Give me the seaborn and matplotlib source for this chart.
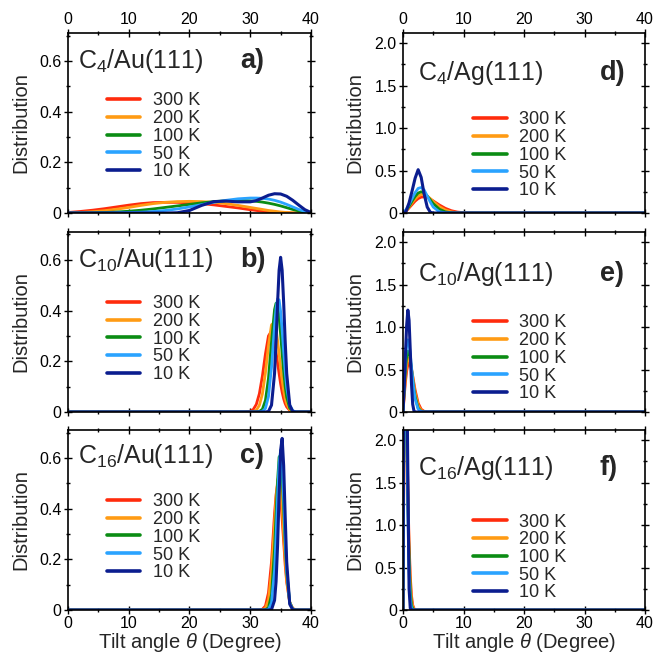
import pandas as pd
import matplotlib
matplotlib.use("Agg")
import matplotlib.pyplot as plt
import seaborn as sns
from matplotlib.ticker import MultipleLocator

TEMPS = ["300 K", "200 K", "100 K", "50 K", "10 K"]
COLORS = ["#ff2b0c", "#ff9b14", "#0b8c14", "#2aa3ff", "#0b1d8f"]

# a) C4/Au(111)
A_X = [0, 2, 4, 6, 8, 10, 12, 14, 16, 18, 20, 22, 24, 26, 28, 30, 31, 32, 33, 34, 35, 36, 37, 38, 39, 40]
A_300 = [.002, .006, .011, .017, .024, .031, .037, .041, .042, .042, .040, .037, .032, .026, .020, .013, .010, .007, .005, .003, .002, .001, 0, 0, 0, 0]
A_200 = [0, .002, .005, .009, .015, .022, .030, .037, .042, .045, .046, .045, .042, .037, .030, .022, .018, .014, .010, .007, .004, .002, .001, 0, 0, 0]
A_100 = [0, 0, .001, .002, .004, .007, .011, .016, .022, .028, .034, .040, .045, .048, .050, .048, .046, .043, .039, .034, .028, .021, .014, .008, .003, 0]
A_50 = [0, 0, 0, 0, .001, .002, .003, .006, .010, .016, .024, .033, .042, .050, .056, .059, .059, .058, .055, .050, .043, .034, .024, .014, .006, .001]
A_10 = [0, 0, 0, 0, 0, 0, 0, 0, 0, .001, .010, .030, .045, .047, .044, .044, .049, .059, .070, .076, .075, .066, .050, .031, .013, .002]

# b) C10/Au(111)
B_X = [0, 29, 30, 30.5, 31, 31.5, 32, 32.5, 33, 33.5, 34, 34.25, 34.5, 34.75, 35, 35.25, 35.5, 35.75, 36, 36.5, 37, 37.5, 38, 40]
B_300 = [0, 0, .003, .010, .030, .072, .142, .229, .300, .319, .276, .237, .194, .151, .111, .078, .052, .033, .020, .006, .0015, 0, 0, 0]
B_200 = [0, 0, 0, .0015, .007, .026, .071, .155, .261, .344, .353, .325, .282, .229, .175, .126, .085, .054, .032, .009, .002, 0, 0, 0]
B_100 = [0, 0, 0, 0, .0002, .002, .011, .046, .133, .276, .404, .429, .418, .374, .306, .230, .159, .100, .058, .015, .003, 0, 0, 0]
B_50 = [0, 0, 0, 0, 0, .0002, .0023, .014, .061, .175, .340, .409, .446, .442, .397, .323, .239, .160, .097, .027, .005, .0006, 0, 0]
B_10 = [0, 0, 0, 0, 0, 0, 0, 0, .002, .027, .152, .280, .431, .559, .610, .559, .431, .280, .152, .027, .002, 0, 0, 0]

# c) C16/Au(111)
C_X = [0, 31, 31.5, 32, 32.5, 33, 33.5, 34, 34.25, 34.5, 34.75, 35, 35.25, 35.5, 35.75, 36, 36.5, 37, 37.5, 38, 40]
C_300 = [0, 0, .0003, .003, .016, .068, .190, .380, .455, .497, .490, .440, .360, .270, .178, .110, .030, .006, .001, 0, 0]
C_200 = [0, 0, 0, .001, .007, .040, .147, .340, .440, .510, .530, .490, .405, .300, .200, .118, .030, .005, .0005, 0, 0]
C_100 = [0, 0, 0, 0, .001, .009, .061, .240, .376, .510, .604, .610, .536, .400, .264, .148, .030, .003, 0, 0, 0]
C_50 = [0, 0, 0, 0, 0, .002, .028, .157, .290, .445, .580, .630, .580, .445, .290, .157, .028, .002, 0, 0, 0]
C_10 = [0, 0, 0, 0, 0, 0, .002, .038, .112, .255, .454, .630, .677, .570, .371, .190, .023, .001, 0, 0, 0]

# d) C4/Ag(111)
D_X = [0, 0.5, 1, 1.5, 2, 2.5, 3, 3.5, 4, 4.5, 5, 6, 7, 8, 9, 10, 11, 12, 40]
D_300 = [0, .02, .06, .10, .14, .17, .187, .19, .183, .165, .142, .095, .055, .027, .011, .004, .001, 0, 0]
D_200 = [0, .025, .07, .12, .165, .20, .218, .218, .20, .17, .135, .075, .035, .013, .004, .001, 0, 0, 0]
D_100 = [0, .03, .08, .14, .195, .235, .25, .24, .20, .155, .11, .045, .013, .003, 0, 0, 0, 0, 0]
D_50 = [0, .04, .10, .17, .24, .29, .30, .27, .20, .13, .07, .015, .002, 0, 0, 0, 0, 0, 0]
D_10 = [0, .02, .12, .26, .41, .51, .42, .22, .07, .01, 0, 0, 0, 0, 0, 0, 0, 0, 0]

# e) C10/Ag(111)
E_X = [0, 0.2, 0.4, 0.6, 0.8, 1.0, 1.2, 1.4, 1.6, 1.8, 2.0, 2.5, 3.0, 3.5, 4.0, 40]
E_300 = [0, .187, .353, .479, .556, .580, .559, .502, .425, .340, .259, .105, .032, .007, .001, 0]
E_200 = [0, .221, .413, .552, .627, .637, .592, .512, .413, .314, .224, .077, .019, .004, 0, 0]
E_100 = [0, .27, .50, .653, .717, .70, .62, .505, .38, .27, .18, .045, .008, .001, 0, 0]
E_50 = [0, .34, .62, .79, .85, .80, .68, .53, .38, .255, .154, .034, .005, 0, 0, 0]
E_10 = [0, .30, .68, 1.02, 1.20, 1.08, .72, .33, .09, .015, 0, 0, 0, 0, 0, 0]

# f) C16/Ag(111)
F_X = [0, 0.1, 0.2, 0.3, 0.4, 0.5, 0.6, 0.7, 0.8, 0.9, 1.0, 1.2, 1.4, 1.6, 1.8, 2.0, 2.2, 40]
F_300 = [0, 1.2, 2.1, 2.6, 2.75, 2.6, 2.35, 1.9, 1.45, 1.1, 0.8, 0.4, 0.17, 0.06, 0.02, 0.005, 0, 0]
F_200 = [0, 1.3, 2.3, 2.8, 2.9, 2.7, 2.4, 1.85, 1.4, 1.02, 0.72, 0.32, 0.12, 0.04, 0.01, 0, 0, 0]
F_100 = [0, 1.5, 2.6, 3.1, 3.1, 2.8, 2.4, 1.8, 1.3, 0.9, 0.6, 0.22, 0.06, 0.015, 0, 0, 0, 0]
F_50 = [0, 1.7, 2.9, 3.4, 3.3, 2.9, 2.4, 1.75, 1.2, 0.75, 0.45, 0.12, 0.02, 0, 0, 0, 0, 0]
F_10 = [0, 2.2, 3.6, 4.1, 3.9, 3.4, 2.8, 2.3, 1.6, 0.9, 0.25, 0.02, 0, 0, 0, 0, 0, 0]

X_TICKS = [0, 10, 20, 30, 40]
X_LABELS = ["0", "10", "20", "30", "40"]
AU_TICKS = [0, 0.2, 0.4, 0.6]
AU_LABELS = ["0", "0.2", "0.4", "0.6"]
AG_TICKS = [0, 0.5, 1.0, 1.5, 2.0]
AG_LABELS = ["0", "0.5", "1.0", "1.5", "2.0"]

sns.set_style("ticks")
plt.rcParams["font.family"] = ["Liberation Sans", "DejaVu Sans"]
plt.rcParams["mathtext.fontset"] = "custom"
plt.rcParams["mathtext.rm"] = "Liberation Sans"
plt.rcParams["mathtext.it"] = "Liberation Sans:italic"
plt.rcParams["mathtext.bf"] = "Liberation Sans:bold"

panels = [
    # col, row, x, ys, title, letter, title_y, legend_y
    (0, 0, A_X, [A_300, A_200, A_100, A_50, A_10], "C$_{4}$/Au(111)", "a)", 0.804, 0.670),
    (0, 1, B_X, [B_300, B_200, B_100, B_50, B_10], "C$_{10}$/Au(111)", "b)", 0.807, 0.648),
    (0, 2, C_X, [C_300, C_200, C_100, C_50, C_10], "C$_{16}$/Au(111)", "c)", 0.817, 0.648),
    (1, 0, D_X, [D_300, D_200, D_100, D_50, D_10], "C$_{4}$/Ag(111)", "d)", 0.739, 0.564),
    (1, 1, E_X, [E_300, E_200, E_100, E_50, E_10], "C$_{10}$/Ag(111)", "e)", 0.726, 0.542),
    (1, 2, F_X, [F_300, F_200, F_100, F_50, F_10], "C$_{16}$/Ag(111)", "f)", 0.750, 0.536),
]

lefts = [0.1038, 0.6153]
widths = [0.371, 0.3695]
bottoms = [0.6753, 0.372, 0.0701]
height = 0.2744

fig = plt.figure(figsize=(6.55, 6.56), dpi=100)

for col, row, xs, ys, title, letter, title_y, legend_y in panels:
    ax = fig.add_axes([lefts[col], bottoms[row], widths[col], height])
    for yv, temp, color in zip(ys, TEMPS, COLORS):
        sns.lineplot(x=xs, y=yv, color=color, lw=2.2 if temp == "10 K" else 2.0,
                     label=temp, ax=ax, sort=False, estimator=None)

    ax.set_xlim(0, 40)
    ax.set_xticks(X_TICKS, X_LABELS)
    ax.xaxis.set_minor_locator(MultipleLocator(5))
    if col == 0:
        ax.set_ylim(0, 0.71)
        ax.set_yticks(AU_TICKS, AU_LABELS)
        ax.yaxis.set_minor_locator(MultipleLocator(0.1))
    else:
        ax.set_ylim(0, 2.12)
        ax.set_yticks(AG_TICKS, AG_LABELS)
        ax.yaxis.set_minor_locator(MultipleLocator(0.25))

    ax.tick_params(which="both", direction="inout", top=True, right=True,
                   width=1.0, labelsize=11.5, pad=1.5, colors="black")
    ax.tick_params(which="major", length=6)
    ax.tick_params(which="minor", length=3.5)
    ax.tick_params(labeltop=(row == 0), labelbottom=(row == 2))
    for sp in ax.spines.values():
        sp.set_linewidth(1.2)
        sp.set_color("black")

    ax.set_ylabel("Distribution", fontsize=14.5)
    ax.yaxis.set_label_coords(-0.155 if col == 0 else -0.16, 0.5)
    if row == 2:
        ax.set_xlabel(r"Tilt angle $\it{\theta}$ (Degree)", fontsize=14.5)
        ax.xaxis.set_label_coords(0.5, -0.115)
    else:
        ax.set_xlabel("")

    tx = 0.042 if col == 0 else 0.062
    lx = 0.708 if col == 0 else 0.812
    ax.text(tx, title_y, title, transform=ax.transAxes, fontsize=18, va="baseline")
    ax.text(lx, title_y, letter, transform=ax.transAxes, fontsize=19.5,
            fontweight="bold", va="baseline")

    leg = ax.legend(loc="upper left", bbox_to_anchor=(0.159 if col == 0 else 0.29, legend_y),
                    frameon=False, fontsize=13, handlelength=1.85, handletextpad=0.7,
                    labelspacing=0.04, borderpad=0, borderaxespad=0)
    for line in leg.get_lines():
        line.set_linewidth(2.6)

fig.savefig("out.png", dpi=100)
